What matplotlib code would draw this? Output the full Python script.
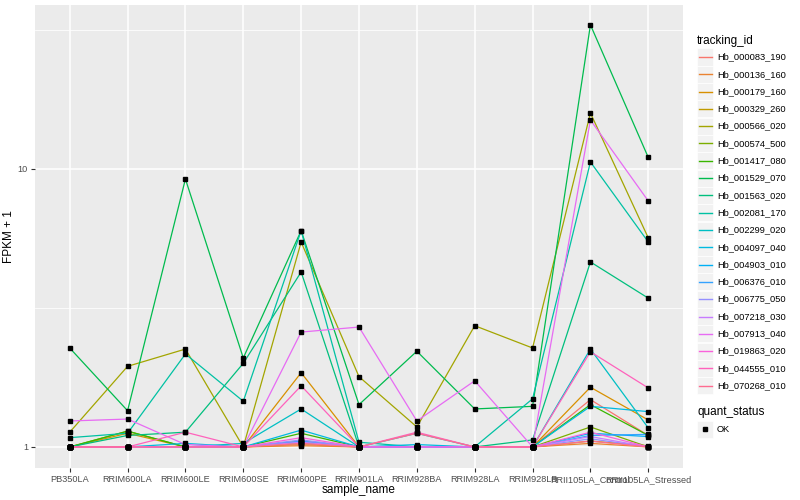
import matplotlib
matplotlib.use('Agg')
import matplotlib.pyplot as plt
from matplotlib.lines import Line2D
from matplotlib.patches import Rectangle
import numpy as np

plt.rcParams['font.family'] = ['Liberation Sans', 'DejaVu Sans']

samples = ['PB350LA', 'RRIM600LA', 'RRIM600LE', 'RRIM600SE', 'RRIM600PE',
           'RRIM901LA', 'RRIM928BA', 'RRIM928LA', 'RRIM928LB',
           'RRII105LA_Control', 'RRII105LA_Stressed']

tracking_ids = ['Hb_000083_190', 'Hb_000136_160', 'Hb_000179_160', 'Hb_000329_260',
                'Hb_000566_020', 'Hb_000574_500', 'Hb_001417_080', 'Hb_001529_070',
                'Hb_001563_020', 'Hb_002081_170', 'Hb_002299_020', 'Hb_004097_040',
                'Hb_004903_010', 'Hb_006376_010', 'Hb_006775_050', 'Hb_007218_030',
                'Hb_007913_040', 'Hb_019863_020', 'Hb_044555_010', 'Hb_070268_010']

# FPKM + 1, one list per tracking id, in sample order
fpkm = [
    [1, 1, 1, 1, 1.02, 1, 1, 1, 1, 1.48, 1.10],
    [1, 1, 1, 1, 1.01, 1, 1, 1, 1, 1.03, 1.0],
    [1, 1.12, 1, 1, 1.85, 1, 1, 1, 1, 1.64, 1.25],
    [1, 1, 1, 1, 1.03, 1, 1, 1, 1, 1.05, 1.01],
    [1.13, 1.95, 2.25, 1.0, 5.46, 1.79, 1.18, 2.73, 2.27, 15.9, 5.65],
    [1, 1.14, 1, 1, 1.05, 1, 1, 1, 1, 1.18, 1.0],
    [1, 1.14, 1, 1, 1.12, 1, 1, 1, 1, 1.42, 1.10],
    [2.27, 1.35, 9.2, 2.09, 6.0, 1.42, 2.21, 1.37, 1.40, 33.0, 11.0],
    [1, 1.10, 1.13, 2.0, 4.26, 1.0, 1.0, 1.0, 1.06, 4.63, 3.43],
    [1.08, 1.12, 2.16, 1.46, 6.0, 1.04, 1.0, 1.0, 1.49, 10.6, 5.46],
    [1, 1, 1, 1.03, 1.37, 1, 1.12, 1, 1, 2.25, 1.17],
    [1, 1, 1.03, 1, 1.15, 1, 1.02, 1, 1, 1.40, 1.34],
    [1, 1, 1, 1, 1.04, 1, 1, 1, 1, 1.12, 1.09],
    [1, 1, 1, 1, 1.05, 1, 1, 1, 1, 1.10, 1.11],
    [1, 1, 1, 1, 1.06, 1, 1, 1, 1, 1.07, 1.0],
    [1, 1, 1, 1, 1.04, 1, 1, 1, 1, 1.09, 1.0],
    [1.24, 1.26, 1.02, 1.0, 2.59, 2.70, 1.24, 1.73, 1.0, 15.0, 7.67],
    [1, 1, 1, 1, 1.08, 1, 1, 1, 1, 1.13, 1.0],
    [1, 1, 1.13, 1, 1.66, 1, 1.13, 1, 1, 2.20, 1.63],
    [1, 1, 1, 1, 1.03, 1, 1.12, 1, 1, 1.05, 1.0],
]

colors = ['#F8766D', '#EA8331', '#D89000', '#C09B00', '#A3A500', '#7CAE00',
          '#39B600', '#00BB4E', '#00BF7D', '#00C1A3', '#00BFC4', '#00BAE0',
          '#00B0F6', '#35A2FF', '#9590FF', '#C77CFF', '#E76BF3', '#FA62DB',
          '#FF62BC', '#FF6C91']

fig = plt.figure(figsize=(8, 5), dpi=100)
ax = fig.add_axes([35 / 800, 32 / 500, 648 / 800, 463 / 500])
ax.set_facecolor('#EBEBEB')

x = np.arange(len(samples))
for vals, c in zip(fpkm, colors):
    ax.plot(x, vals, color=c, lw=0.9, zorder=3)
for vals in fpkm:
    ax.plot(x, vals, 's', color='black', ms=2.5, zorder=4, lw=0)

ax.set_yscale('log')
ax.set_ylim(0.84, 38.9)
ax.set_xlim(-0.6, 10.6)
ax.set_yticks([1, 10])
ax.set_yticklabels(['1', '10'])
ax.set_yticks([10 ** 0.5, 10 ** 1.5], minor=True)
ax.yaxis.set_minor_formatter(plt.NullFormatter())
ax.set_xticks(x)
ax.set_xticklabels(samples)

ax.grid(True, which='major', color='white', lw=1.1, zorder=0)
ax.grid(True, which='minor', axis='y', color='white', lw=0.55, zorder=0)
ax.set_axisbelow(True)
for s in ax.spines.values():
    s.set_visible(False)
ax.tick_params(axis='both', which='major', length=3, width=0.8, color='#333333',
               labelsize=6.6, labelcolor='#4D4D4D', pad=2)
ax.tick_params(axis='y', which='minor', length=0)

ax.set_xlabel('sample_name', fontsize=8.5, labelpad=0)
ax.set_ylabel('FPKM + 1', fontsize=8.5, labelpad=2)

# legend: tracking_id
fig.text(697 / 800, 1 - 41 / 500, 'tracking_id', fontsize=8.5, va='center', ha='left')
for i, (tid, c) in enumerate(zip(tracking_ids, colors)):
    yc = 57 + i * 17.3
    fig.add_artist(Rectangle((697 / 800, 1 - (yc + 8.5) / 500), 16 / 800, 17 / 500,
                             transform=fig.transFigure, facecolor='#F2F2F2',
                             edgecolor='white', lw=0.5))
    fig.add_artist(Line2D([698.5 / 800, 711.5 / 800], [1 - yc / 500, 1 - yc / 500],
                          transform=fig.transFigure, color=c, lw=1.0))
    fig.text(717 / 800, 1 - yc / 500, tid, fontsize=6.7, va='center', ha='left')

# legend: quant_status
fig.text(697 / 800, 1 - 412 / 500, 'quant_status', fontsize=8.5, va='center', ha='left')
fig.add_artist(Rectangle((697 / 800, 1 - (429 + 8.5) / 500), 16 / 800, 17 / 500,
                         transform=fig.transFigure, facecolor='#F2F2F2',
                         edgecolor='white', lw=0.5))
fig.add_artist(Line2D([705 / 800], [1 - 429 / 500], transform=fig.transFigure,
                      marker='s', color='black', ms=2.5, lw=0))
fig.text(717 / 800, 1 - 429 / 500, 'OK', fontsize=6.7, va='center', ha='left')

fig.savefig('out.png', dpi=100)
